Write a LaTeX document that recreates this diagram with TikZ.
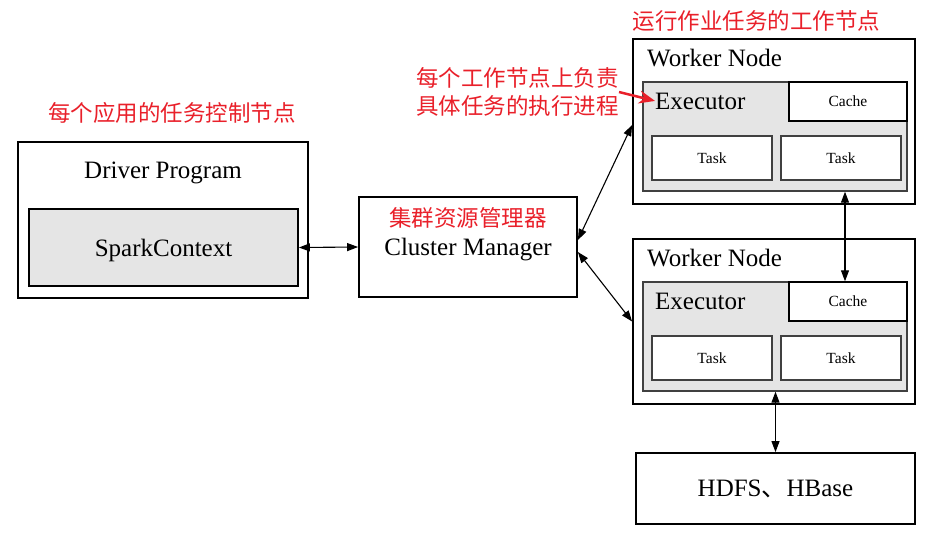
\documentclass[tikz,border=0pt]{standalone}
\usepackage{fontspec}
\setmainfont{Liberation Serif}
\newfontfamily\cjk{Noto Sans CJK SC}
\usetikzlibrary{arrows.meta}
\definecolor{notered}{RGB}{233,32,42}
\definecolor{exgray}{RGB}{229,229,229}

\begin{document}
\begin{tikzpicture}[x=1pt, y=-1pt,
    big/.style = {font=\fontsize{25}{30}\selectfont},
    main/.style = {draw, line width=1.8pt, inner sep=0pt, big},
    exec/.style = {draw=black!75, line width=1.4pt, fill=exgray},
    small/.style = {draw, line width=1.4pt, fill=white, inner sep=0pt, font=\fontsize{15.5}{18}\selectfont},
    task/.style = {small, draw=black!75},
    note/.style = {text=notered, inner sep=0pt, font=\cjk\fontsize{22.5}{28.5}\selectfont},
    link/.style = {{Triangle[length=11pt,width=8pt]}-{Triangle[length=11pt,width=8pt]}, line width=1.1pt}]
        \useasboundingbox (0,0) rectangle (934,544);

        % driver side
        \node[main, minimum width=290pt, minimum height=156pt] (driver) at (163,220) {};
        \node[big, anchor=base] (dptext) at (163,178) {Driver Program};
        \node[main, fill=exgray, text depth=0pt, minimum width=269pt, minimum height=77pt] (sc) at (163.5,247.5) {SparkContext};
        \node[note] (drvnote) at (172,113) {每个应用的任务控制节点};

        \node[main, text depth=0pt, minimum width=218pt, minimum height=100pt] (cm) at (468,247) {Cluster Manager};
        \node[note] (cmnote) at (468,218) {集群资源管理器};

        % worker 1
        \node[main, minimum width=282pt, minimum height=165pt] (w1) at (774,121.5) {};
        \node[big, anchor=base west, inner sep=0pt] (w1text) at (647,66) {Worker Node};
        \node[exec, minimum width=264pt, minimum height=109pt] (ex1) at (775,136.5) {};
        \node[big, anchor=base west, inner sep=0pt] (ex1text) at (655,109) {Executor};
        \node[small, minimum width=118pt, minimum height=39pt] (c1) at (848,101.5) {Cache};
        \node[task, minimum width=120pt, minimum height=44pt] (t11) at (712,158) {Task};
        \node[task, minimum width=120pt, minimum height=44pt] (t12) at (841,158) {Task};
        \node[note] (wnote) at (756.5,21) {运行作业任务的工作节点};

        % worker 2
        \node[main, minimum width=282pt, minimum height=165pt] (w2) at (774,321.5) {};
        \node[big, anchor=base west, inner sep=0pt] (w2text) at (647,266) {Worker Node};
        \node[exec, minimum width=264pt, minimum height=109pt] (ex2) at (775,336.5) {};
        \node[big, anchor=base west, inner sep=0pt] (ex2text) at (655,309) {Executor};
        \node[small, minimum width=118pt, minimum height=39pt] (c2) at (848,301.5) {Cache};
        \node[task, minimum width=120pt, minimum height=44pt] (t21) at (712,358) {Task};
        \node[task, minimum width=120pt, minimum height=44pt] (t22) at (841,358) {Task};

        \node[main, minimum width=279pt, minimum height=71pt] (hdfs) at (775.5,488.5) {HDFS{\cjk 、}HBase};

        \node[note, align=right, anchor=east] (exnote) at (619,92) {每个工作节点上负责\\具体任务的执行进程};
        \draw[notered, line width=2.5pt, -{Stealth[length=16pt,width=13pt]}] (exnote.east) -- (ex1text.west);

        \draw[link] (sc.east) -- (cm.west);
        \draw[link] ([yshift=7pt]cm.east) -- ([yshift=-3.5pt]w1.west);
        \draw[link] ([yshift=-5pt]cm.east) -- (w2.west);
        \draw[link] ([xshift=-3pt]c2.north) -- ([xshift=-3pt]c2.north |- ex1.south);
        \draw[link] (hdfs.north) -- (hdfs.north |- ex2.south);
    \end{tikzpicture}
\end{document}
